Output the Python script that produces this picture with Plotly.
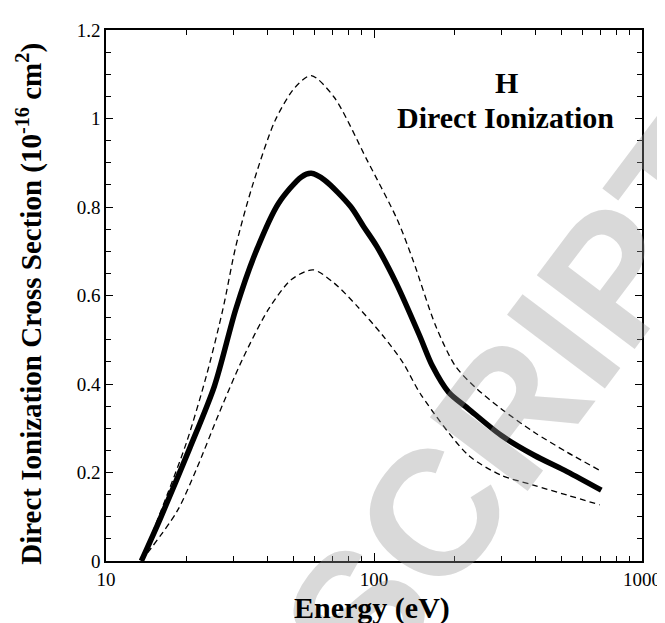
import plotly.graph_objects as go

# Data
solid_E = [13.55, 15.97, 20.5, 25.4, 30.5, 36.1, 44.0, 53.6, 58.3, 65.3, 81.8, 91.4,
           102.4, 121, 148, 165, 190, 225, 298, 396, 525, 705]
solid_y = [0.0, 0.097, 0.254, 0.396, 0.569, 0.696, 0.808, 0.868, 0.876, 0.861, 0.801, 0.756,
           0.711, 0.628, 0.509, 0.441, 0.381, 0.344, 0.284, 0.239, 0.202, 0.160]

upper_E = [13.55, 16.9, 20.0, 23.7, 27.3, 30.5, 35.1, 42.8, 50.7, 58.3, 71, 94.2,
           122, 139.6, 170, 201, 240, 298, 396, 525, 695]
upper_y = [0.0, 0.149, 0.269, 0.419, 0.569, 0.711, 0.846, 0.996, 1.070, 1.097, 1.048, 0.906,
           0.772, 0.681, 0.531, 0.441, 0.391, 0.344, 0.291, 0.246, 0.205]

lower_E = [13.55, 18.4, 21.8, 26.5, 32.3, 40.4, 49.2, 59.2, 71, 86.5, 108, 128,
           150, 225, 298, 396, 525, 695]
lower_y = [0.0, 0.112, 0.209, 0.336, 0.456, 0.569, 0.636, 0.658, 0.628, 0.576, 0.509, 0.449,
           0.375, 0.239, 0.194, 0.171, 0.149, 0.127]

x_ticks = [10, 100, 1000]
x_ticklabels = ["10", "100", "1000"]
y_ticks = [0, 0.2, 0.4, 0.6, 0.8, 1.0, 1.2]
y_ticklabels = ["0", "0.2", "0.4", "0.6", "0.8", "1", "1.2"]

W, H = 665, 623
L, R, T, B = 98, 22, 19, 70

fig = go.Figure()
fig.add_trace(go.Scatter(x=upper_E, y=upper_y, mode="lines",
                         line=dict(color="black", width=1.3, dash="6px,4px", shape="spline", smoothing=0.8),
                         showlegend=False, hoverinfo="skip"))
fig.add_trace(go.Scatter(x=lower_E, y=lower_y, mode="lines",
                         line=dict(color="black", width=1.3, dash="6px,4px", shape="spline", smoothing=0.8),
                         showlegend=False, hoverinfo="skip"))
fig.add_trace(go.Scatter(x=solid_E, y=solid_y, mode="lines",
                         line=dict(color="black", width=5.5, shape="spline", smoothing=0.8),
                         showlegend=False, hoverinfo="skip"))

font = "Liberation Serif, Times New Roman, serif"

def px(xp, yp):
    return (xp - L) / (W - L - R), 1 - (yp - T) / (H - T - B)

def add_ann(xp, yp, text, size, angle=0, color="black", family=font):
    ax, ay = px(xp, yp)
    return dict(x=ax, y=ay, xref="paper", yref="paper", text=text, showarrow=False,
                xanchor="center", yanchor="middle", textangle=angle,
                font=dict(family=family, size=size, color=color))

ann = [
    add_ann(518, 392, "<b>SCRIPT</b>", 178, angle=-53, color="rgba(150,150,150,0.36)",
            family="Liberation Sans, Arial, sans-serif"),
    add_ann(505, 72, "<b>H</b>", 30),
    add_ann(504, 107, "<b>Direct Ionization</b>", 30),
    add_ann(368, 600, "<b>Energy (eV)</b>", 30),
    add_ann(20, 294, "<b>Direct Ionization Cross Section (10<sup>-16</sup> cm<sup>2</sup>)</b>", 29, angle=-90),
]

fig.update_layout(
    width=W, height=H,
    margin=dict(l=L, r=R, t=T, b=B),
    paper_bgcolor="white", plot_bgcolor="white",
    annotations=ann,
    xaxis=dict(type="log", range=[1, 3], tickvals=x_ticks, ticktext=x_ticklabels,
               ticks="inside", ticklen=8, tickwidth=1, tickcolor="black",
               showline=True, linecolor="black", linewidth=1.5, mirror="ticks",
               showgrid=False, zeroline=False,
               tickfont=dict(family=font, size=19, color="black"),
               minor=dict(ticks="inside", ticklen=5, tickwidth=1, tickcolor="black", showgrid=False,
                          tickvals=[20, 30, 40, 50, 60, 70, 80, 90, 200, 300, 400, 500, 600, 700, 800, 900])),
    yaxis=dict(range=[0, 1.2], tickvals=y_ticks, ticktext=y_ticklabels,
               ticks="inside", ticklen=7, tickwidth=1, tickcolor="black",
               showline=True, linecolor="black", linewidth=1.5, mirror="ticks",
               showgrid=False, zeroline=False,
               tickfont=dict(family=font, size=19, color="black"),
               minor=dict(ticks="inside", ticklen=5, tickwidth=1, tickcolor="black", showgrid=False,
                          dtick=0.05)),
)

fig.write_html("out.html")
